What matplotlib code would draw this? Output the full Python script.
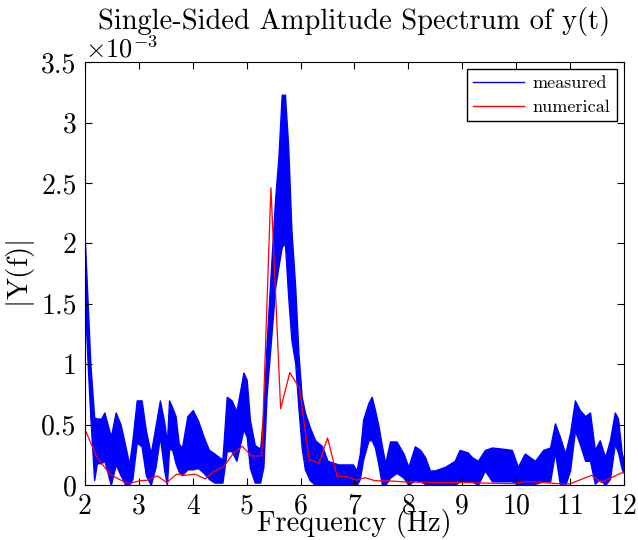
import numpy as np
import matplotlib
matplotlib.use("Agg")
import matplotlib.pyplot as plt
from matplotlib.lines import Line2D

plt.rcParams['font.family'] = 'cmr10'
plt.rcParams['mathtext.fontset'] = 'cm'
plt.rcParams['axes.unicode_minus'] = False

# measured spectrum, read as upper / lower envelope of the dense trace (units of 1e-3)
meas_f = [2.00, 2.05, 2.10, 2.17, 2.22, 2.30, 2.36, 2.48, 2.57, 2.66, 2.75, 2.82, 2.88,
          2.96, 3.05, 3.13, 3.22, 3.31, 3.39, 3.47, 3.52, 3.56, 3.62, 3.68, 3.74, 3.80,
          3.90, 4.00, 4.10, 4.20, 4.30, 4.40, 4.55, 4.63, 4.72, 4.81, 4.94, 5.00, 5.06,
          5.15, 5.25, 5.31, 5.37, 5.46, 5.53, 5.59, 5.65, 5.71, 5.77, 5.83, 5.90, 5.96,
          6.02, 6.08, 6.17, 6.27, 6.40, 6.50, 6.70, 6.97, 7.04, 7.10, 7.16, 7.26, 7.32,
          7.38, 7.44, 7.51, 7.57, 7.66, 7.78, 7.91, 8.00, 8.12, 8.22, 8.31, 8.40, 8.49,
          8.68, 8.86, 8.95, 9.10, 9.18, 9.29, 9.42, 9.55, 9.75, 9.92, 10.03, 10.16, 10.35,
          10.50, 10.63, 10.72, 10.81, 10.91, 11.00, 11.09, 11.18, 11.28, 11.37, 11.46,
          11.55, 11.65, 11.74, 11.83, 11.89, 11.96, 12.00]
meas_hi = [2.00, 1.50, 1.00, 0.56, 0.55, 0.55, 0.60, 0.40, 0.60, 0.50, 0.32, 0.17, 0.37,
           0.70, 0.70, 0.45, 0.26, 0.49, 0.70, 0.52, 0.35, 0.70, 0.64, 0.57, 0.34, 0.31,
           0.57, 0.62, 0.53, 0.40, 0.29, 0.26, 0.21, 0.73, 0.70, 0.61, 0.93, 0.87, 0.54,
           0.33, 0.30, 0.60, 1.17, 1.86, 2.38, 2.72, 3.23, 3.23, 2.80, 2.11, 1.64, 1.09,
           0.73, 0.60, 0.48, 0.37, 0.32, 0.20, 0.17, 0.17, 0.12, 0.26, 0.54, 0.68, 0.73,
           0.62, 0.50, 0.32, 0.18, 0.36, 0.36, 0.26, 0.15, 0.32, 0.29, 0.23, 0.12, 0.12,
           0.15, 0.20, 0.29, 0.27, 0.23, 0.20, 0.29, 0.31, 0.30, 0.29, 0.15, 0.26, 0.20,
           0.29, 0.31, 0.51, 0.40, 0.26, 0.43, 0.70, 0.62, 0.57, 0.60, 0.29,
           0.37, 0.23, 0.37, 0.60, 0.55, 0.26, 0.20]
meas_lo = [1.50, 1.00, 0.56, 0.04, 0.18, 0.18, 0.20, 0.00, 0.17, 0.08, 0.00, 0.00, 0.05,
           0.35, 0.32, 0.08, 0.00, 0.15, 0.40, 0.12, 0.00, 0.30, 0.29, 0.18, 0.11, 0.08,
           0.13, 0.13, 0.14, 0.10, 0.05, 0.02, 0.02, 0.28, 0.28, 0.20, 0.46, 0.40, 0.14,
           0.02, 0.02, 0.15, 0.75, 1.25, 1.64, 1.81, 1.97, 2.00, 1.56, 1.20, 1.01, 0.64,
           0.31, 0.13, 0.04, 0.00, 0.00, 0.00, 0.00, 0.00, 0.00, 0.05, 0.21, 0.37, 0.37,
           0.31, 0.18, 0.00, 0.00, 0.06, 0.10, 0.06, 0.00, 0.04, 0.03, 0.01, 0.00, 0.00,
           0.00, 0.00, 0.03, 0.03, 0.03, 0.00, 0.12, 0.03, 0.03, 0.03, 0.00, 0.01, 0.01,
           0.03, 0.03, 0.27, 0.01, 0.00, 0.12, 0.45, 0.34, 0.20, 0.20, 0.01,
           0.05, 0.00, 0.05, 0.34, 0.27, 0.13, 0.10]

# numerical spectrum (units of 1e-3)
num_f = [2.00, 2.22, 2.46, 2.62, 2.80, 3.02, 3.17, 3.34, 3.52, 3.70, 3.86, 4.04, 4.23,
         4.38, 4.57, 4.75, 4.92, 5.09, 5.28, 5.45, 5.63, 5.80, 5.98, 6.16, 6.34, 6.50,
         6.68, 6.86, 7.03, 7.20, 7.38, 7.57, 7.78, 7.95, 8.50, 9.00, 9.50, 9.95, 10.19,
         10.50, 10.81, 11.00, 11.40, 11.58, 11.95, 12.00]
num_v = [0.46, 0.23, 0.09, 0.05, 0.01, 0.035, 0.04, 0.075, 0.02, 0.09, 0.08, 0.09, 0.05,
         0.11, 0.15, 0.26, 0.32, 0.24, 0.24, 2.46, 0.63, 0.93, 0.80, 0.21, 0.18, 0.39,
         0.07, 0.07, 0.04, 0.06, 0.035, 0.035, 0.03, 0.025, 0.02, 0.02, 0.015, 0.01, 0.03,
         0.02, 0.01, 0.01, 0.08, 0.02, 0.10, 0.10]

fig = plt.figure(figsize=(6.38, 5.40), dpi=100)
ax = fig.add_axes([0.1332, 0.1019, 0.8448, 0.7831])

ax.fill_between(meas_f, meas_lo, meas_hi, color='blue', linewidth=1.0, edgecolor='blue')
ax.plot(num_f, num_v, color='red', linewidth=0.9)

ax.set_xlim(2, 12)
ax.set_ylim(0, 3.5)
ax.set_xticks(range(2, 13))
ax.set_yticks(np.arange(0, 3.51, 0.5))
ax.set_yticklabels(['0', '0.5', '1', '1.5', '2', '2.5', '3', '3.5'])
ax.tick_params(direction='in', top=True, right=True, length=5, labelsize=20, pad=6)
for s in ax.spines.values():
    s.set_linewidth(0.8)

ax.set_title('Single-Sided Amplitude Spectrum of y(t)', fontsize=20.5, pad=24)
ax.set_xlabel('Frequency (Hz)', fontsize=20.5, labelpad=-8)
ax.set_ylabel(r'$|\mathrm{Y(f)}|$', fontsize=21, labelpad=3)
ax.text(0.0, 1.0, r'$\times10^{-3}$', transform=ax.transAxes, fontsize=19,
        ha='left', va='bottom')

handles = [Line2D([], [], color='blue', lw=1), Line2D([], [], color='red', lw=1)]
ax.legend(handles, ['measured', 'numerical'], loc='upper right', fontsize=13,
          fancybox=False, edgecolor='black', framealpha=1, borderaxespad=0.4,
          handlelength=2.8, handletextpad=0.5, borderpad=0.35, labelspacing=0.45)

fig.savefig('out.png', dpi=100)
